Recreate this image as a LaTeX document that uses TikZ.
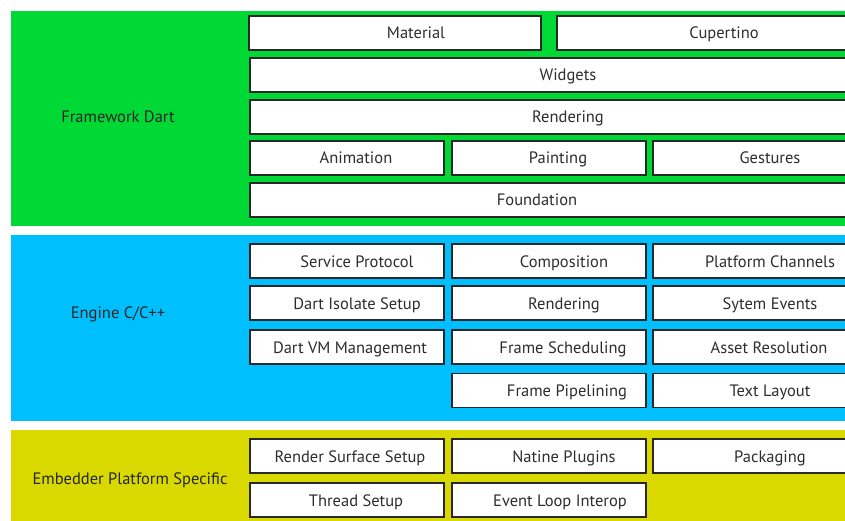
\documentclass[tikz,border=0pt]{standalone}
\usepackage{fontspec}
\setmainfont{PT Sans}
\usetikzlibrary{positioning}
\definecolor{fwgreen}{RGB}{0,216,54}
\definecolor{engblue}{RGB}{0,191,255}
\definecolor{embyellow}{RGB}{217,217,0}
\definecolor{boxline}{RGB}{40,40,40}
\definecolor{boxtext}{RGB}{45,45,45}
\tikzset{x=1pt, y=-1pt, % one unit = one pixel of the layout
        layer/.style={ % coloured band behind each group
            draw=none},
        block/.style={ % white box of one component
            draw=boxline,
            line width=1.8pt,
            fill=white,
            minimum height=34,
            inner sep=0pt},
        every label/.style={ % text inside the boxes
            font=\fontsize{16.5}{19}\selectfont,
            text height=14pt, text depth=2pt,
            text=boxtext},
        group/.style={ % name of the band
            font=\fontsize{16.5}{19}\selectfont,
            text height=14pt, text depth=2pt,
            text=black!85}
        }

\begin{document}
\begin{tikzpicture}
    \useasboundingbox (0,0) rectangle (845,521);
    \clip (0,0) rectangle (845,521);

    % bands
    \fill[layer, fwgreen]   (11,11)  rectangle (845,226);
    \fill[layer, engblue]   (11,235) rectangle (845,421);
    \fill[layer, embyellow] (11,430) rectangle (845,521);

    \node[group] (fw)  at (118,117) {Framework Dart};
    \node[group] (eng) at (118,312) {Engine C/C++};
    \node[group] (emb) at (130,478) {Embedder Platform Specific};

    % framework
    \node[block, minimum width=292, label={[xshift=21]center:Material}]  (mat) at (395,33) {};
    \node[block, minimum width=292, label={[xshift=21]center:Cupertino}] (cup) at (703,33) {};
    \node[block, minimum width=600, label={[xshift=18]center:Widgets}]   (wid) at (550,75) {};
    \node[block, minimum width=600, label={[xshift=18]center:Rendering}] (ren) at (550,117) {};
    \node[block, minimum width=194, label={[xshift=9]center:Animation}]  (ani) at (347,158) {};
    \node[block, minimum width=194, label={[xshift=9]center:Painting}]   (pai) at (549,158) {};
    \node[block, minimum width=194, label={[xshift=20]center:Gestures}]  (ges) at (750,158) {};
    \node[block, minimum width=600, label={[xshift=-13]center:Foundation}] (fou) at (550,200) {};

    % engine
    \node[block, minimum width=194, label={[xshift=10]center:Service Protocol}]   (sp)  at (347,261) {};
    \node[block, minimum width=194, label={[xshift=15]center:Composition}]        (com) at (549,261) {};
    \node[block, minimum width=194, label={[xshift=20]center:Platform Channels}]  (pc)  at (750,261) {};
    \node[block, minimum width=194, label={[xshift=10]center:Dart Isolate Setup}] (dis) at (347,303) {};
    \node[block, minimum width=194, label={[xshift=15]center:Rendering}]          (er)  at (549,303) {};
    \node[block, minimum width=194, label={[xshift=20]center:Sytem Events}]       (se)  at (750,303) {};
    \node[block, minimum width=194, label={[xshift=3]center:Dart VM Management}]  (dvm) at (347,347) {};
    \node[block, minimum width=194, label={[xshift=14]center:Frame Scheduling}]   (fs)  at (549,347) {};
    \node[block, minimum width=194, label={[xshift=19]center:Asset Resolution}]   (ar)  at (750,347) {};
    \node[block, minimum width=194, label={[xshift=18]center:Frame Pipelining}]   (fp)  at (549,390.5) {};
    \node[block, minimum width=194, label={[xshift=20]center:Text Layout}]        (tl)  at (750,390.5) {};

    % embedder
    \node[block, minimum width=194, label={[xshift=3]center:Render Surface Setup}] (rss) at (347,456) {};
    \node[block, minimum width=194, label={[xshift=15]center:Natine Plugins}]      (np)  at (549,456) {};
    \node[block, minimum width=194, label={[xshift=20]center:Packaging}]           (pkg) at (750,456) {};
    \node[block, minimum width=194, label={[xshift=9]center:Thread Setup}]         (ts)  at (347,500) {};
    \node[block, minimum width=194, label={[xshift=11]center:Event Loop Interop}]  (eli) at (549,500) {};
\end{tikzpicture}
\end{document}
